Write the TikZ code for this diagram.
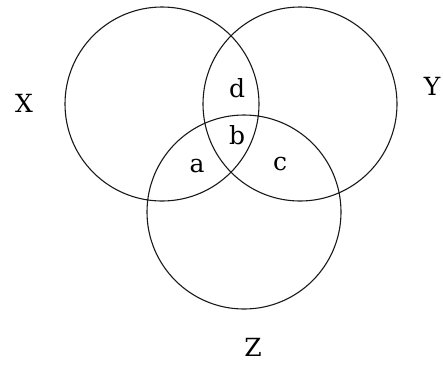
\documentclass[tikz,border=0pt]{standalone}
\usepackage{fontspec}
\setmainfont{DejaVu Serif}
\begin{document}
\begin{tikzpicture}[x=1pt,y=-1pt,
  setcircle/.style={draw=black!90,line width=1.1pt,circle,minimum size=194pt,inner sep=0pt},
  lbl/.style={inner sep=0pt,font=\fontsize{25}{30}\selectfont}]
\useasboundingbox (0,0) rectangle (443,368);
\node[setcircle] (cX) at (162,104) {};
\node[setcircle] (cY) at (300,104) {};
\node[setcircle] (cZ) at (244,212) {};
\node[lbl] (lX) at (24,103) {X};
\node[lbl] (lY) at (432,86) {Y};
\node[lbl] (lZ) at (253,347) {Z};
\node[lbl] (ld) at (237,88) {d};
\node[lbl] (lb) at (237,135) {b};
\node[lbl] (la) at (197,166) {a};
\node[lbl] (lc) at (280,164) {c};
\end{tikzpicture}
\end{document}
